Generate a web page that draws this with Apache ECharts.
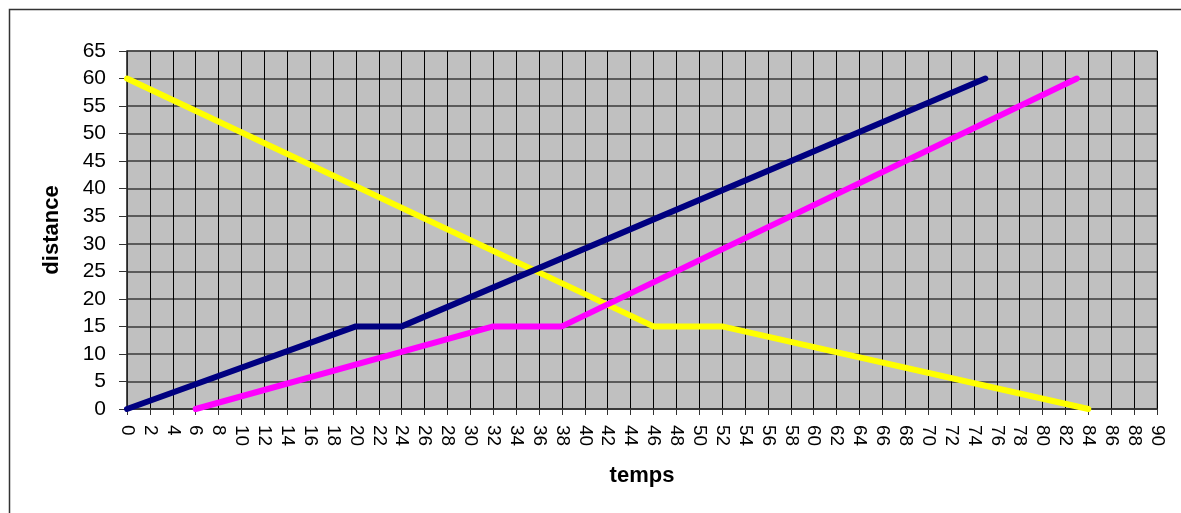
<!DOCTYPE html>
<html><head><meta charset="utf-8">
<script src="https://cdn.jsdelivr.net/npm/echarts@6/dist/echarts.min.js"></script>
<style>html,body{margin:0;padding:0;background:#fff}#c{width:1181px;height:513px}</style>
</head><body><div id="c"></div>
<script>
var navyT = [0, 20, 24, 75];
var navyD = [0, 15, 15, 60];
var magentaT = [6, 32, 38, 83];
var magentaD = [0, 15, 15, 60];
var yellowT = [0, 46, 52, 84];
var yellowD = [60, 15, 15, 0];
var xMin = 0, xMax = 90, xStep = 2;
var yMin = 0, yMax = 65, yStep = 5;

function pts(t, d) { return t.map(function (v, i) { return [v, d[i]]; }); }

var chart = echarts.init(document.getElementById('c'));
var font = '"Liberation Sans", Arial, sans-serif';
chart.setOption({
  animation: false,
  graphic: [{
    type: 'rect', shape: { x: 9.5, y: 9.5, width: 1200, height: 530 },
    style: { fill: 'none', stroke: '#333', lineWidth: 1.5 }, z: -10
  }],
  grid: { left: 127, right: 24, top: 51, bottom: 104, show: true,
    backgroundColor: '#C0C0C0', borderColor: '#808080', borderWidth: 1.5 },
  xAxis: {
    type: 'value', min: xMin, max: xMax, interval: xStep,
    name: 'temps', nameLocation: 'middle', nameGap: 56,
    nameTextStyle: { fontFamily: font, fontWeight: 'bold', fontSize: 22, color: '#000' },
    axisLine: { show: true, lineStyle: { color: '#333', width: 1.5 } },
    axisTick: { show: true, length: 6, lineStyle: { color: '#333' } },
    axisLabel: { rotate: -90, fontFamily: font, fontSize: 19, color: '#000', margin: 16 },
    splitLine: { show: true, lineStyle: { color: '#000', width: 1 } }
  },
  yAxis: {
    type: 'value', min: yMin, max: yMax, interval: yStep,
    name: 'distance', nameLocation: 'middle', nameGap: 64, nameRotate: 90,
    nameTextStyle: { fontFamily: font, fontWeight: 'bold', fontSize: 22, color: '#000' },
    axisLine: { show: true, lineStyle: { color: '#333', width: 1.5 } },
    axisTick: { show: true, length: 8, lineStyle: { color: '#333' } },
    axisLabel: { fontFamily: font, fontSize: 21, color: '#000', margin: 21 },
    splitLine: { show: true, lineStyle: { color: '#3a3a3a', width: 1.5 } }
  },
  series: [
    { type: 'line', data: pts(yellowT, yellowD), symbol: 'none',
      lineStyle: { color: '#FFFF00', width: 6, cap: 'round', join: 'round' } },
    { type: 'line', data: pts(magentaT, magentaD), symbol: 'none',
      lineStyle: { color: '#FF00FF', width: 6, cap: 'round', join: 'round' } },
    { type: 'line', data: pts(navyT, navyD), symbol: 'none',
      lineStyle: { color: '#000080', width: 6, cap: 'round', join: 'round' } }
  ]
});
</script></body></html>
